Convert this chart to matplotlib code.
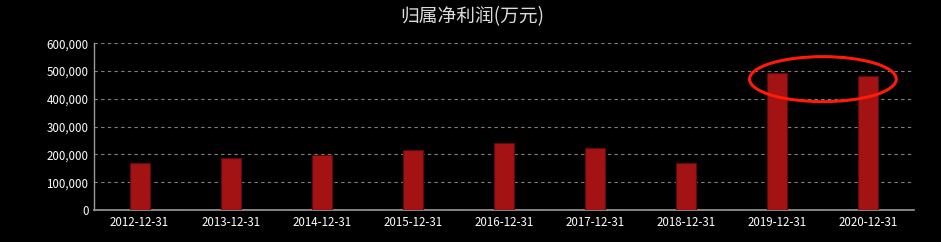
import matplotlib.pyplot as plt
from matplotlib.patches import Ellipse
from matplotlib.ticker import FuncFormatter

plt.rcParams['font.family'] = ['Noto Sans CJK SC', 'DejaVu Sans']

# data
fechas = ["2012-12-31", "2013-12-31", "2014-12-31", "2015-12-31", "2016-12-31",
          "2017-12-31", "2018-12-31", "2019-12-31", "2020-12-31"]
beneficio = [168000, 187000, 198000, 217000, 242000, 223000, 168000, 494000, 484000]
titulo = "归属净利润(万元)"

fig = plt.figure(figsize=(9.41, 2.42), dpi=100, facecolor='black')
ax = fig.add_axes([94 / 941, 32 / 242, 820 / 941, 166.7 / 242])
ax.set_facecolor('black')

x = list(range(len(fechas)))
ax.bar(x, beneficio, width=0.22, color='#a31313', edgecolor='#5e0a0a', linewidth=0.8, zorder=3)

ax.set_xlim(-0.5, len(fechas) - 0.5)
ax.set_ylim(0, 600000)
ax.set_yticks(range(0, 600001, 100000))
ax.yaxis.set_major_formatter(FuncFormatter(lambda v, p: f"{int(v):,}"))
ax.set_xticks(x)
ax.set_xticklabels(fechas)

ax.grid(axis='y', color='#808080', linestyle=(0, (3, 3)), linewidth=0.8, zorder=0)
for lado in ['top', 'right']:
    ax.spines[lado].set_visible(False)
ax.spines['left'].set_color('#9a9a9a')
ax.spines['bottom'].set_color('#9a9a9a')
ax.spines['left'].set_linewidth(1)
ax.spines['bottom'].set_linewidth(1.2)
ax.tick_params(colors='white', labelsize=8.3, length=0, pad=4)

# circulo rojo
elipse = Ellipse((7.5, 471000), 1.61, 162000, fill=False, edgecolor='#ff1a0a',
                 linewidth=2.2, clip_on=False, zorder=5)
ax.add_patch(elipse)

fig.text(472 / 941, 1 - 17 / 242, titulo, color='#dddddd', fontsize=13.5,
         ha='center', va='center')

fig.savefig("out.png", dpi=100, facecolor='black')
